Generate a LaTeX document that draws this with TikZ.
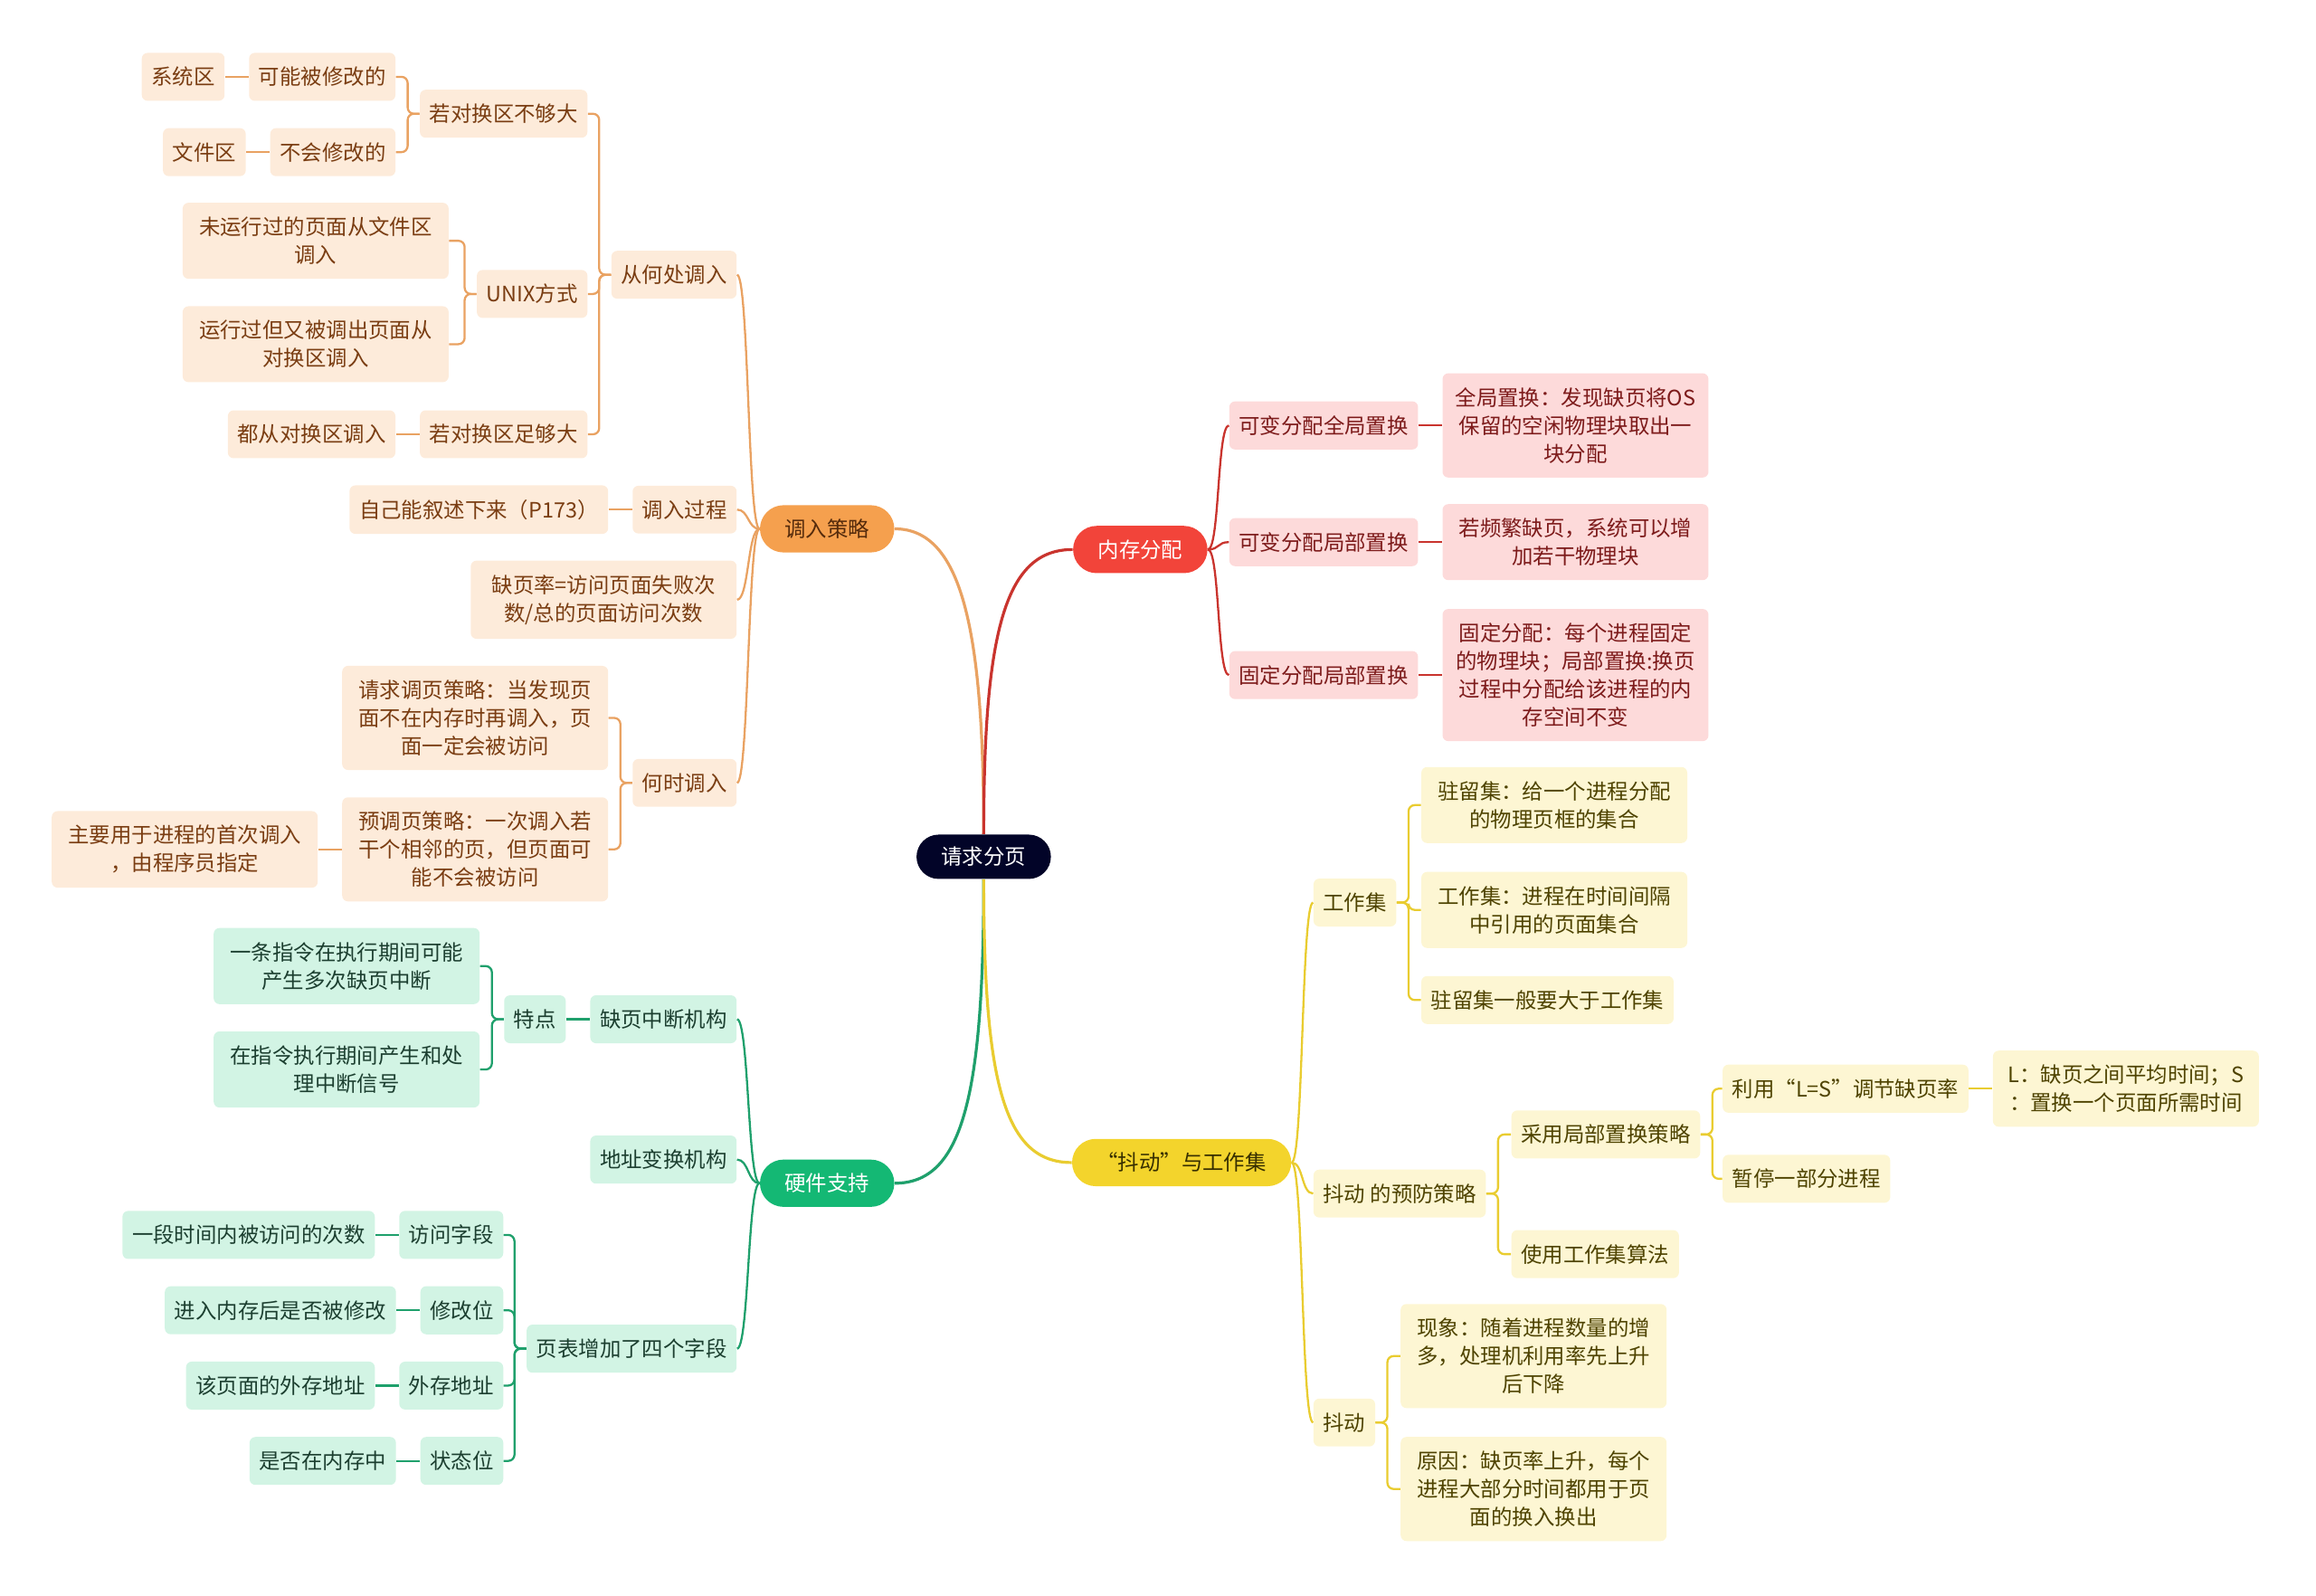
\documentclass[tikz,border=0pt]{standalone}
\usepackage{fontspec}
\setmainfont{Noto Sans CJK SC}
\usetikzlibrary{positioning}

\definecolor{orMain}{HTML}{F5A04E}
\definecolor{orSub}{HTML}{FDEBDA}
\definecolor{orText}{HTML}{7A3D12}
\definecolor{orLine}{HTML}{E9A262}
\definecolor{rdMain}{HTML}{F2443A}
\definecolor{rdSub}{HTML}{FDDADA}
\definecolor{rdText}{HTML}{7D1B1B}
\definecolor{rdLine}{HTML}{C9342E}
\definecolor{gnMain}{HTML}{14B874}
\definecolor{gnSub}{HTML}{D2F4E4}
\definecolor{gnText}{HTML}{1C3F30}
\definecolor{gnLine}{HTML}{1FA06C}
\definecolor{ylMain}{HTML}{F3D42C}
\definecolor{ylSub}{HTML}{FDF6D3}
\definecolor{ylText}{HTML}{4E4300}
\definecolor{ylLine}{HTML}{E9CC30}
\definecolor{rootFill}{HTML}{020428}

\tikzset{
  txt/.style={font=\fontsize{10.2}{13.5}\selectfont, align=center},
  box/.style={txt, rounded corners=2.8pt, inner xsep=0.163cm, inner ysep=0.24cm, minimum height=0.76cm},
  wrap/.style={minimum width=4.5cm},
  big/.style={txt, rounded corners=0.4cm, inner xsep=0.42cm, minimum height=0.8cm},
  orsub/.style={box, fill=orSub, text=orText},
  rdsub/.style={box, fill=rdSub, text=rdText},
  gnsub/.style={box, fill=gnSub, text=gnText},
  ylsub/.style={box, fill=ylSub, text=ylText},
  orbig/.style={big, fill=orMain, text=orText!70!black},
  rdbig/.style={big, fill=rdMain, text=white},
  gnbig/.style={big, fill=gnMain, text=white},
  ylbig/.style={big, fill=ylMain, text=ylText!70!black},
  rootbox/.style={big, fill=rootFill, text=white, rounded corners=0.375cm, minimum height=0.75cm},
  orline/.style={draw=orLine, line width=1pt},
  rdline/.style={draw=rdLine, line width=1pt},
  gnline/.style={draw=gnLine, line width=1pt},
  ylline/.style={draw=ylLine, line width=1pt},
  trunk/.style={line width=1.4pt},
  brk/.style={rounded corners=3pt}
}

\begin{document}
\begin{tikzpicture}[x=0.025cm, y=-0.025cm]
\useasboundingbox (0,0) rectangle (1568,1080);

% centre and main branches
\node[rootbox] (root) at (666,580) {请求分页};
\node[orbig] (dr) at (560,358) {调入策略};
\node[rdbig] (nc) at (772,372) {内存分配};
\node[gnbig] (yj) at (560,801) {硬件支持};
\node[ylbig, minimum width=3.65cm] (dd) at (800,787) {“抖动”与工作集};

% 调入策略
\node[orsub, anchor=east] (cong) at (499,186) {从何处调入};
\node[orsub, anchor=east] (guocheng) at (499,345) {调入过程};
\node[orsub, wrap, anchor=east] (quey) at (499,406) {缺页率=访问页面失败次\\数/总的页面访问次数};
\node[orsub, anchor=east] (heshi) at (499,530) {何时调入};
\node[orsub, anchor=east] (buguo) at (398,77) {若对换区不够大};
\node[orsub, anchor=east] (unix) at (398,199) {UNIX方式};
\node[orsub, anchor=east] (zugou) at (398,294) {若对换区足够大};
\node[orsub, left=0.4cm of guocheng] (ziji) {自己能叙述下来（P173）};
\node[orsub, anchor=east] (kexiu) at (268,52) {可能被修改的};
\node[orsub, anchor=east] (buhui) at (268,103) {不会修改的};
\node[orsub, left=0.4cm of kexiu] (xitong) {系统区};
\node[orsub, left=0.4cm of buhui] (wenjian) {文件区};
\node[orsub, wrap, anchor=east] (weiyun) at (304,163) {未运行过的页面从文件区\\调入};
\node[orsub, wrap, anchor=east] (yunxing) at (304,233) {运行过但又被调出页面从\\对换区调入};
\node[orsub, left=0.4cm of zugou] (doucong) {都从对换区调入};
\node[orsub, wrap, anchor=east] (qingqiu) at (412,486) {请求调页策略：当发现页\\面不在内存时再调入，页\\面一定会被访问};
\node[orsub, wrap, anchor=east] (yudiao) at (412,575) {预调页策略：一次调入若\\干个相邻的页，但页面可\\能不会被访问};
\node[orsub, wrap, left=0.4cm of yudiao] (zhuyao) {主要用于进程的首次调入\\，由程序员指定};

% 硬件支持
\node[gnsub, anchor=east] (queduan) at (499,690) {缺页中断机构};
\node[gnsub, anchor=east] (dizhi) at (499,785) {地址变换机构};
\node[gnsub, anchor=east] (yebiao) at (499,913) {页表增加了四个字段};
\node[gnsub, left=0.4cm of queduan] (tedian) {特点};
\node[gnsub, wrap, anchor=east] (yitiao) at (325,654) {一条指令在执行期间可能\\产生多次缺页中断};
\node[gnsub, wrap, anchor=east] (zaizhi) at (325,724) {在指令执行期间产生和处\\理中断信号};
\node[gnsub, anchor=east] (fangwen) at (341,836) {访问字段};
\node[gnsub, anchor=east] (xiugai) at (341,887) {修改位};
\node[gnsub, anchor=east] (waicun) at (341,938) {外存地址};
\node[gnsub, anchor=east] (zhuangtai) at (341,989) {状态位};
\node[gnsub, left=0.4cm of fangwen] (yiduan) {一段时间内被访问的次数};
\node[gnsub, left=0.4cm of xiugai] (jinru) {进入内存后是否被修改};
\node[gnsub, left=0.4cm of waicun] (gaiye) {该页面的外存地址};
\node[gnsub, left=0.4cm of zhuangtai] (shifou) {是否在内存中};

% 内存分配
\node[rdsub, anchor=west] (kbqj) at (832,288) {可变分配全局置换};
\node[rdsub, anchor=west] (kbjb) at (832,367) {可变分配局部置换};
\node[rdsub, anchor=west] (gdjb) at (832,457) {固定分配局部置换};
\node[rdsub, wrap, right=0.4cm of kbqj] (qjzh) {全局置换：发现缺页将OS\\保留的空闲物理块取出一\\块分配};
\node[rdsub, wrap, right=0.4cm of kbjb] (pfqy) {若频繁缺页，系统可以增\\加若干物理块};
\node[rdsub, wrap, right=0.4cm of gdjb] (gdfp) {固定分配：每个进程固定\\的物理块；局部置换:换页\\过程中分配给该进程的内\\存空间不变};

% 抖动与工作集
\node[ylsub, anchor=west] (gzj) at (889,611) {工作集};
\node[ylsub, anchor=west] (yufang) at (889,808) {抖动 的预防策略};
\node[ylsub, anchor=west] (doudong) at (889,963) {抖动};
\node[ylsub, wrap, anchor=west] (zhuliu) at (962,545) {驻留集：给一个进程分配\\的物理页框的集合};
\node[ylsub, wrap, anchor=west] (gzjdy) at (962,616) {工作集：进程在时间间隔\\中引用的页面集合};
\node[ylsub, anchor=west] (zldy) at (962,677) {驻留集一般要大于工作集};
\node[ylsub, anchor=west] (jubu) at (1023,768) {采用局部置换策略};
\node[ylsub, anchor=west] (shiyong) at (1023,849) {使用工作集算法};
\node[ylsub, anchor=west] (liyong) at (1166,737) {利用“L=S”调节缺页率};
\node[ylsub, anchor=west] (zanting) at (1166,798) {暂停一部分进程};
\node[ylsub, wrap, right=0.4cm of liyong] (lsdef) {L：缺页之间平均时间；S\\：置换一个页面所需时间};
\node[ylsub, wrap, anchor=west] (xianx) at (948,918) {现象：随着进程数量的增\\多，处理机利用率先上升\\后下降};
\node[ylsub, wrap, anchor=west] (yuany) at (948,1008) {原因：缺页率上升，每个\\进程大部分时间都用于页\\面的换入换出};

% centre to branches
\draw[orline, trunk] (root.north) .. controls +(0,-140) and +(45,0) .. (dr.east);
\draw[rdline, trunk] (root.north) .. controls +(0,-140) and +(-45,0) .. (nc.west);
\draw[gnline, trunk] (root.south) .. controls +(0,150) and +(45,0) .. (yj.east);
\draw[ylline, trunk] (root.south) .. controls +(0,140) and +(-45,0) .. (dd.west);

% first level
\draw[orline] (dr.west) .. controls +(-8,0) and +(8,0) .. (cong.east);
\draw[orline] (dr.west) .. controls +(-8,0) and +(8,0) .. (guocheng.east);
\draw[orline] (dr.west) .. controls +(-8,0) and +(8,0) .. (quey.east);
\draw[orline] (dr.west) .. controls +(-8,0) and +(8,0) .. (heshi.east);
\draw[gnline] (yj.west) .. controls +(-8,0) and +(8,0) .. (queduan.east);
\draw[gnline] (yj.west) .. controls +(-8,0) and +(8,0) .. (dizhi.east);
\draw[gnline] (yj.west) .. controls +(-8,0) and +(8,0) .. (yebiao.east);
\draw[rdline] (nc.east) .. controls +(8,0) and +(-8,0) .. (kbqj.west);
\draw[rdline] (nc.east) .. controls +(8,0) and +(-8,0) .. (kbjb.west);
\draw[rdline] (nc.east) .. controls +(8,0) and +(-8,0) .. (gdjb.west);
\draw[ylline] (dd.east) .. controls +(8,0) and +(-8,0) .. (gzj.west);
\draw[ylline] (dd.east) .. controls +(8,0) and +(-8,0) .. (yufang.west);
\draw[ylline] (dd.east) .. controls +(8,0) and +(-8,0) .. (doudong.west);

% brackets
\foreach \c in {buguo,unix,zugou}
  \draw[orline, brk] (cong.west) -- ++(-8,0) |- (\c.east);
\foreach \c in {kexiu,buhui}
  \draw[orline, brk] (buguo.west) -- ++(-8,0) |- (\c.east);
\foreach \c in {weiyun,yunxing}
  \draw[orline, brk] (unix.west) -- ++(-8,0) |- (\c.east);
\foreach \c in {qingqiu,yudiao}
  \draw[orline, brk] (heshi.west) -- ++(-8,0) |- (\c.east);
\foreach \c in {yitiao,zaizhi}
  \draw[gnline, brk] (tedian.west) -- ++(-8,0) |- (\c.east);
\foreach \c in {fangwen,xiugai,waicun,zhuangtai}
  \draw[gnline, brk] (yebiao.west) -- ++(-8,0) |- (\c.east);
\foreach \c in {zhuliu,gzjdy,zldy}
  \draw[ylline, brk] (gzj.east) -- ++(8,0) |- (\c.west);
\foreach \c in {jubu,shiyong}
  \draw[ylline, brk] (yufang.east) -- ++(8,0) |- (\c.west);
\foreach \c in {liyong,zanting}
  \draw[ylline, brk] (jubu.east) -- ++(8,0) |- (\c.west);
\foreach \c in {xianx,yuany}
  \draw[ylline, brk] (doudong.east) -- ++(8,0) |- (\c.west);

% single links
\draw[orline] (kexiu.west) -- (xitong.east);
\draw[orline] (buhui.west) -- (wenjian.east);
\draw[orline] (zugou.west) -- (doucong.east);
\draw[orline] (guocheng.west) -- (ziji.east);
\draw[orline] (yudiao.west) -- (zhuyao.east);
\draw[gnline] (queduan.west) -- (tedian.east);
\draw[gnline] (fangwen.west) -- (yiduan.east);
\draw[gnline] (xiugai.west) -- (jinru.east);
\draw[gnline] (waicun.west) -- (gaiye.east);
\draw[gnline] (zhuangtai.west) -- (shifou.east);
\draw[rdline] (kbqj.east) -- (qjzh.west);
\draw[rdline] (kbjb.east) -- (pfqy.west);
\draw[rdline] (gdjb.east) -- (gdfp.west);
\draw[ylline] (liyong.east) -- (lsdef.west);
\end{tikzpicture}
\end{document}
